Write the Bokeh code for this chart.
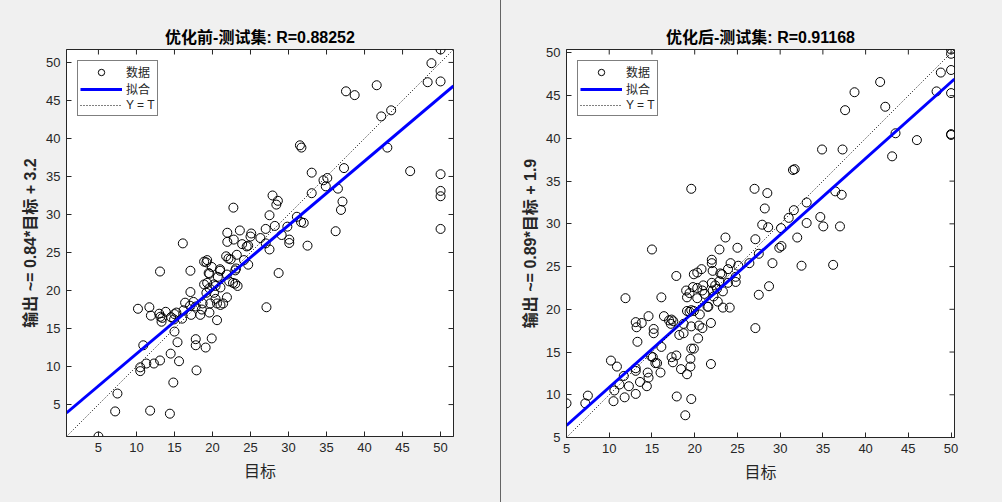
from bokeh.plotting import figure
from bokeh.layouts import row
from bokeh.models import Range1d, FixedTicker, Legend, LegendItem, Div, ColumnDataSource
from bokeh.embed import file_html
from bokeh.resources import INLINE

# ---------------- data ----------------
tick_values = [5, 10, 15, 20, 25, 30, 35, 40, 45, 50]

before_target = [50, 48.8, 48.3, 50, 37.56, 38.7, 41.6, 42.2, 43.5, 31.5, 31.7, 43.0, 46.0, 50, 50, 50, 50,
                 33.05, 37.3, 34.6, 35.1, 34.9, 33.05, 36.5, 37.1, 36.9, 36.2, 27.9, 28.6, 28.4, 27.5, 31.1,
                 31.65, 32.0, 29.85, 28.2, 27.0, 29.1, 30.1, 30.1, 26.3, 27.0, 27.5, 32.5, 28.7, 27.1, 22.75,
                 21.95, 23.6, 22.8, 21.95, 25.1, 25.0, 23.9, 24.5, 24.7, 16.1, 13.1, 17.1, 21.8, 22.1, 22.4,
                 23.2, 24.15, 24.7, 23.1, 23.0, 21.0, 21.0, 18.9, 19.3, 19.2, 19.9, 19.5, 19.6, 20.7, 21.9,
                 22.2, 22.7, 23.0, 23.3, 18.9, 19.3, 20.2, 20.4, 21.05, 19.6, 19.2, 20.2, 17.1, 21.9, 16.4,
                 17.5, 17.8, 18.7, 19.7, 20.4, 20.6, 21.4, 21.05, 19.6, 18.6, 18.4, 17.2, 16.2, 16.0, 17.05,
                 20.6, 10.2, 11.7, 11.9, 13.0, 13.15, 13.4, 13.3, 13.85, 14.55, 15.0, 15.25, 14.95, 15.0,
                 15.4, 15.6, 14.5, 13.1, 12.3, 11.3, 10.5, 10.5, 10.9, 17.8, 17.8, 19.1, 19.9, 17.9, 14.85,
                 7.5, 7.2, 11.8, 14.4, 5.0]
before_output = [51.7, 49.9, 47.4, 47.5, 46.2, 45.7, 47.0, 42.9, 43.7, 39.1, 38.8, 38.8, 35.7, 35.3, 33.1,
                 32.4, 28.1, 35.5, 36.1, 34.5, 34.8, 33.7, 32.8, 33.4, 31.7, 30.6, 27.8, 32.5, 31.8, 31.3,
                 29.9, 29.7, 29.0, 28.9, 28.4, 28.5, 28.1, 27.3, 26.7, 26.25, 26.9, 26.2, 25.4, 25.9, 22.3,
                 17.8, 30.9, 27.6, 27.9, 26.7, 26.4, 27.5, 27.1, 26.1, 25.8, 25.9, 26.2, 22.5, 22.6, 24.5,
                 24.2, 24.1, 24.7, 24.0, 23.4, 22.9, 22.65, 22.8, 22.6, 23.8, 24.0, 23.7, 23.1, 22.3, 22.2,
                 21.8, 22.1, 21.2, 21.0, 20.9, 20.6, 20.8, 21.0, 20.8, 20.6, 20.4, 20.3, 19.7, 19.7, 19.8,
                 19.1, 18.4, 18.5, 17.9, 18.3, 18.3, 18.9, 18.3, 18.3, 18.1, 17.1, 17.5, 16.8, 16.8, 17.4,
                 16.3, 18.0, 16.1, 17.6, 17.8, 16.7, 16.95, 16.55, 16.4, 15.9, 17.2, 16.5, 16.9, 17.1, 16.2,
                 14.6, 13.2, 10.7, 11.7, 10.8, 10.4, 10.4, 9.9, 9.4, 12.8, 13.6, 12.8, 12.5, 13.7, 9.5, 7.9,
                 6.45, 4.1, 4.2, 3.8, 0.8]

after_target = [50, 50, 50, 48.8, 48.3, 50, 50, 50, 41.7, 38.7, 37.6, 42.3, 43.5, 46.0, 43.1, 34.9, 37.3,
                31.5, 31.7, 19.6, 27.0, 28.5, 36.45, 37.2, 33.1, 28.2, 31.6, 31.0, 34.7, 33.1, 35.05, 37.0,
                27.9, 28.6, 30.1, 32.0, 23.6, 27.1, 29.9, 30.15, 22.9, 25.0, 27.5, 26.4, 29.1, 32.5, 36.2,
                15.0, 22.0, 22.0, 24.2, 25.1, 23.9, 22.1, 23.0, 23.2, 20.8, 20.3, 19.9, 17.85, 24.8, 24.8,
                22.9, 22.0, 22.4, 22.6, 23.9, 21.0, 20.9, 20.3, 19.8, 19.0, 19.1, 19.4, 20.3, 21.15, 22.1,
                22.2, 23.3, 22.7, 23.3, 24.1, 21.5, 21.6, 11.9, 16.1, 28.7, 27.5, 27.1, 21.9, 19.1, 19.4,
                19.6, 19.9, 20.6, 19.6, 20.5, 20.9, 18.7, 18.7, 18.2, 20.4, 16.4, 17.0, 17.3, 17.5, 17.2,
                14.6, 13.1, 13.8, 13.2, 15.2, 15.2, 13.3, 16.1, 19.6, 19.9, 14.9, 15.1, 15.4, 15.6, 17.3,
                17.85, 17.45, 19.5, 19.5, 18.4, 19.1, 21.9, 16.0, 10.2, 10.9, 13.1, 13.1, 14.5, 14.6, 11.7,
                11.2, 12.3, 10.6, 13.6, 14.4, 13.1, 11.8, 10.5, 7.5, 7.2, 5.0, 17.9, 19.6, 18.9]
after_output = [50.4, 49.9, 48.0, 47.7, 45.5, 45.3, 40.5, 40.4, 46.6, 45.4, 43.3, 43.7, 40.6, 39.8, 37.9,
                38.7, 38.7, 36.3, 36.4, 34.1, 34.1, 33.6, 33.8, 33.4, 32.5, 31.8, 31.6, 30.7, 30.8, 30.1,
                29.7, 29.7, 29.9, 29.6, 29.5, 28.4, 28.4, 28.2, 27.2, 27.4, 27.0, 27.2, 26.5, 25.4, 25.4,
                25.1, 25.2, 27.0, 25.8, 25.4, 25.4, 25.1, 24.7, 24.5, 24.2, 24.1, 24.7, 24.3, 24.1, 23.9,
                23.8, 23.2, 23.3, 23.1, 22.8, 22.4, 23.1, 22.8, 22.2, 22.5, 22.6, 22.2, 21.4, 21.9, 21.3,
                21.8, 22.2, 21.5, 22.1, 20.9, 20.2, 20.2, 20.3, 20.3, 21.3, 21.4, 22.7, 21.7, 17.8, 18.4,
                19.8, 19.7, 19.9, 19.8, 19.4, 18.0, 18.1, 17.8, 18.3, 17.2, 17.0, 16.6, 19.2, 18.7, 18.8,
                18.6, 18.3, 19.2, 18.5, 18.4, 17.9, 17.7, 17.2, 16.2, 15.6, 15.4, 15.4, 14.5, 14.4, 13.7,
                13.7, 14.4, 14.6, 13.8, 14.2, 13.3, 13.0, 12.4, 13.6, 12.6, 14.0, 13.3, 13.1, 12.8, 12.6,
                12.0, 12.2, 11.2, 11.0, 10.5, 11.5, 11.0, 10.1, 9.7, 9.25, 9.9, 9.0, 9.0, 9.8, 9.5, 7.6]

before_fit = (0.845, 3.22)
after_fit = (0.893, 1.94)
before_range = (0.8, 51.7)
after_range = (5.0, 50.4)
before_title = "优化前-测试集: R=0.88252"
after_title = "优化后-测试集: R=0.91168"
before_ylabel = "输出 ~= 0.84*目标 + 3.2"
after_ylabel = "输出 ~= 0.89*目标 + 1.9"
xlabel = "目标"
legend_labels = ["数据", "拟合", "Y = T"]

BG = "#F0F0F0"
INK = "#262626"
LATIN_CJK = "'Liberation Sans', 'Noto Sans CJK SC'"
TICK_PX = 5


def panel(target, output, rng, fit, title, ylabel, border_left, frame, border_right, border_top):
    lo, hi = rng
    p = figure(frame_width=frame, frame_height=frame,
               min_border_left=border_left, min_border_right=border_right,
               min_border_top=border_top, min_border_bottom=502 - border_top - frame,
               x_range=Range1d(lo, hi), y_range=Range1d(lo, hi),
               output_backend="svg", toolbar_location=None,
               background_fill_color="white", border_fill_color=BG,
               outline_line_color=INK, outline_line_width=1)
    p.grid.visible = False

    src = ColumnDataSource(dict(x=target, y=output))
    r_pts = p.scatter("x", "y", source=src, marker="circle", size=9,
                      fill_color=None, line_color="black", line_width=1)
    xs = [lo, hi]
    r_fit = p.line(xs, [fit[0] * v + fit[1] for v in xs], line_color="#0000FF", line_width=3)
    r_yt = p.line(xs, xs, line_color="black", line_width=1, line_dash="1 2")

    # inward ticks on the top and right edges of the box (MATLAB "box on")
    tl = TICK_PX * (hi - lo) / frame
    p.segment(x0=tick_values, x1=tick_values, y0=[hi] * len(tick_values), y1=[hi - tl] * len(tick_values),
              line_color=INK, line_width=1)
    p.segment(x0=[hi] * len(tick_values), x1=[hi - tl] * len(tick_values), y0=tick_values, y1=tick_values,
              line_color=INK, line_width=1)

    for ax in (p.xaxis[0], p.yaxis[0]):
        ax.ticker = FixedTicker(ticks=tick_values)
        ax.major_tick_in = TICK_PX
        ax.major_tick_out = 0
        ax.minor_tick_line_color = None
        ax.axis_line_color = INK
        ax.major_tick_line_color = INK
        ax.major_label_text_font = "Liberation Sans"
        ax.major_label_text_font_size = "13px"
        ax.major_label_text_color = INK
        ax.axis_label_text_color = INK
        ax.axis_label_text_font = LATIN_CJK
        ax.axis_label_text_font_size = "16px"
        ax.axis_label_text_font_style = "normal"
    p.xaxis.axis_label = xlabel
    p.yaxis.axis_label = ylabel
    p.yaxis.axis_label_text_font_style = "bold"
    p.xaxis.major_label_standoff = 6
    p.yaxis.major_label_standoff = 6
    p.yaxis.axis_label_standoff = 4
    p.xaxis.axis_label_standoff = 8

    p.title.text = title
    p.title.align = "center"
    p.title.text_font = LATIN_CJK
    p.title.text_font_size = "16px"
    p.title.text_font_style = "bold"
    p.title.text_color = "black"
    p.title.standoff = 8

    legend = Legend(items=[LegendItem(label=legend_labels[0], renderers=[r_pts]),
                           LegendItem(label=legend_labels[1], renderers=[r_fit]),
                           LegendItem(label=legend_labels[2], renderers=[r_yt])],
                    location="top_left", margin=11, padding=2, spacing=0,
                    glyph_width=42, glyph_height=16, label_height=16, label_standoff=4,
                    label_text_font=LATIN_CJK, label_text_font_size="12px", label_text_color=INK,
                    label_text_line_height=1.0,
                    border_line_color="black", border_line_width=1, background_fill_color="white",
                    background_fill_alpha=1)
    p.add_layout(legend)
    return p


p1 = panel(before_target, before_output, before_range, before_fit, before_title, before_ylabel,
           66, 387, 47, 49)
p2 = panel(after_target, after_output, after_range, after_fit, after_title, after_ylabel,
           65, 388, 48, 48)
divider = Div(width=1, height=502, styles={"background-color": "#646464", "margin": "0", "padding": "0"})

layout = row(p1, divider, p2, spacing=0, styles={"background-color": BG})
open("out.html", "w").write(file_html(layout, INLINE))
